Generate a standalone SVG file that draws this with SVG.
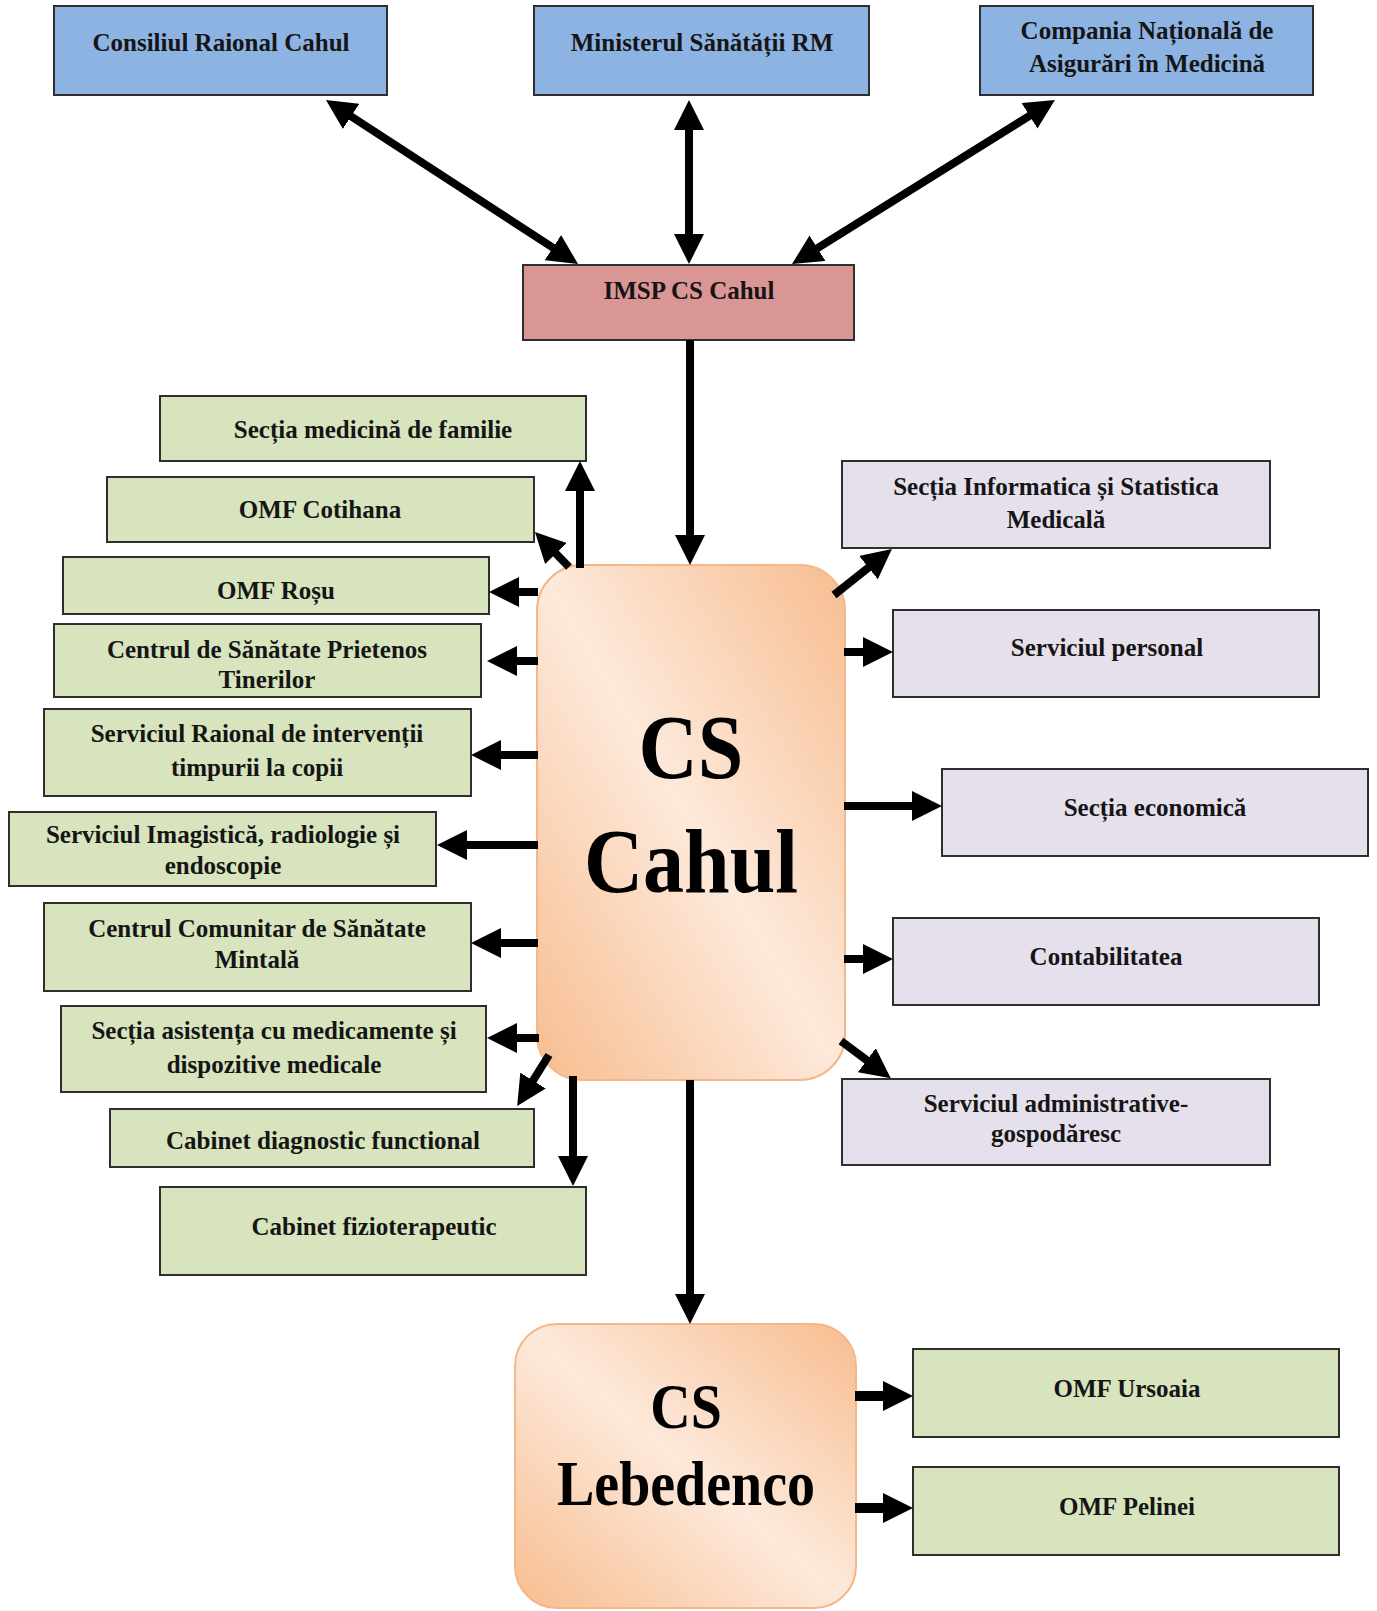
<svg xmlns="http://www.w3.org/2000/svg" width="1377" height="1611" viewBox="0 0 1377 1611">
<defs>
<style>
.box{stroke:#2e2e2e;stroke-width:2}
.blue{fill:#8DB3E2}
.pink{fill:#D99694}
.green{fill:#D7E4BD}
.purple{fill:#E5E0EC}
.cs{fill:url(#peach);stroke:#F4B78A;stroke-width:2}
.lbl{font-family:"Liberation Serif","Times New Roman",serif;font-weight:bold;font-size:25px;fill:#151515;text-anchor:middle}
.big{font-family:"Liberation Serif","Times New Roman",serif;font-weight:bold;fill:#000;text-anchor:middle}
.conn line{stroke:#000;stroke-width:8;fill:none}
.conn .one{marker-end:url(#ah)}
.conn .two{marker-start:url(#ah);marker-end:url(#ah)}
</style>
<linearGradient id="peach" x1="0" y1="1" x2="1" y2="0">
<stop offset="0" stop-color="#F7BD8F"/>
<stop offset="0.5" stop-color="#FDE9DB"/>
<stop offset="1" stop-color="#F7BD8F"/>
</linearGradient>
<marker id="ah" viewBox="0 0 30 30" markerWidth="30" markerHeight="30" markerUnits="userSpaceOnUse" refX="8" refY="15" orient="auto-start-reverse">
<path d="M0,0 L30,15 L0,30 z" fill="#000"/>
</marker>
</defs>
<rect width="1377" height="1611" fill="#fff"/>

<g id="consiliul"><rect class="box blue" x="54" y="6" width="333" height="89"/><text class="lbl" x="221" y="51">Consiliul Raional Cahul</text></g>
<g id="ministerul"><rect class="box blue" x="534" y="6" width="335" height="89"/><text class="lbl" x="702" y="51">Ministerul Sănătății RM</text></g>
<g id="compania"><rect class="box blue" x="980" y="6" width="333" height="89"/><text class="lbl" x="1147" y="39">Compania Națională de</text><text class="lbl" x="1147" y="72">Asigurări în Medicină</text></g>
<g id="imsp"><rect class="box pink" x="523" y="265" width="331" height="75"/><text class="lbl" x="689" y="299">IMSP CS Cahul</text></g>

<g id="cs-cahul"><rect class="cs" x="537" y="565" width="308" height="515" rx="45" ry="45"/>
<text class="big" font-size="82" transform="translate(691,778) scale(1,1.1)">CS</text>
<text class="big" font-size="82" transform="translate(691,892) scale(1,1.1)">Cahul</text></g>

<g id="sectia-medicina"><rect class="box green" x="160" y="396" width="426" height="65"/><text class="lbl" x="373" y="438">Secția medicină de familie</text></g>
<g id="omf-cotihana"><rect class="box green" x="107" y="477" width="427" height="65"/><text class="lbl" x="320" y="518">OMF Cotihana</text></g>
<g id="omf-rosu"><rect class="box green" x="63" y="557" width="426" height="57"/><text class="lbl" x="276" y="599">OMF Roșu</text></g>
<g id="centrul-prietenos"><rect class="box green" x="54" y="624" width="427" height="73"/><text class="lbl" x="267" y="658">Centrul de Sănătate Prietenos</text><text class="lbl" x="267" y="688">Tinerilor</text></g>
<g id="serviciul-raional"><rect class="box green" x="44" y="709" width="427" height="87"/><text class="lbl" x="257" y="742">Serviciul Raional de intervenții</text><text class="lbl" x="257" y="776">timpurii la copii</text></g>
<g id="serviciul-imagistica"><rect class="box green" x="9" y="812" width="427" height="74"/><text class="lbl" x="223" y="843">Serviciul Imagistică, radiologie și</text><text class="lbl" x="223" y="874">endoscopie</text></g>
<g id="centrul-comunitar"><rect class="box green" x="44" y="903" width="427" height="88"/><text class="lbl" x="257" y="937">Centrul Comunitar de Sănătate</text><text class="lbl" x="257" y="968">Mintală</text></g>
<g id="sectia-asistenta"><rect class="box green" x="61" y="1006" width="425" height="86"/><text class="lbl" x="274" y="1039">Secția asistența cu medicamente și</text><text class="lbl" x="274" y="1073">dispozitive medicale</text></g>
<g id="cabinet-diagnostic"><rect class="box green" x="110" y="1109" width="424" height="58"/><text class="lbl" x="323" y="1149">Cabinet diagnostic functional</text></g>
<g id="cabinet-fizioterapeutic"><rect class="box green" x="160" y="1187" width="426" height="88"/><text class="lbl" x="374" y="1235">Cabinet fizioterapeutic</text></g>

<g id="sectia-informatica"><rect class="box purple" x="842" y="461" width="428" height="87"/><text class="lbl" x="1056" y="495">Secția Informatica și Statistica</text><text class="lbl" x="1056" y="528">Medicală</text></g>
<g id="serviciul-personal"><rect class="box purple" x="893" y="610" width="426" height="87"/><text class="lbl" x="1107" y="656">Serviciul personal</text></g>
<g id="sectia-economica"><rect class="box purple" x="942" y="769" width="426" height="87"/><text class="lbl" x="1155" y="816">Secția economică</text></g>
<g id="contabilitatea"><rect class="box purple" x="893" y="918" width="426" height="87"/><text class="lbl" x="1106" y="965">Contabilitatea</text></g>
<g id="serviciul-administrativ"><rect class="box purple" x="842" y="1079" width="428" height="86"/><text class="lbl" x="1056" y="1112">Serviciul administrative-</text><text class="lbl" x="1056" y="1142">gospodăresc</text></g>

<g id="cs-lebedenco"><rect class="cs" x="515" y="1324" width="341" height="284" rx="42" ry="42"/>
<text class="big" font-size="56" transform="translate(686,1428) scale(1,1.12)">CS</text>
<text class="big" font-size="56" transform="translate(686,1505) scale(1,1.15)">Lebedenco</text></g>

<g id="omf-ursoaia"><rect class="box green" x="913" y="1349" width="426" height="88"/><text class="lbl" x="1127" y="1397">OMF Ursoaia</text></g>
<g id="omf-pelinei"><rect class="box green" x="913" y="1467" width="426" height="88"/><text class="lbl" x="1127" y="1515">OMF Pelinei</text></g>

<g id="connectors" class="conn">
<line class="two" x1="344.4" y1="112" x2="559.6" y2="252"/>
<line class="two" x1="689" y1="122" x2="689" y2="242"/>
<line class="two" x1="1036.3" y1="111.6" x2="810.7" y2="252.4"/>
<line class="one" x1="690" y1="340" x2="690" y2="543"/>
<line class="one" x1="580" y1="568" x2="580" y2="483"/>
<line class="one" x1="569" y1="567" x2="550.3" y2="547.8"/>
<line class="one" x1="538" y1="592" x2="511" y2="592"/>
<line class="one" x1="538" y1="661" x2="509" y2="661"/>
<line class="one" x1="538" y1="755" x2="493" y2="755"/>
<line class="one" x1="538" y1="845" x2="459" y2="845"/>
<line class="one" x1="538" y1="943" x2="493" y2="943"/>
<line class="one" x1="539" y1="1038" x2="509" y2="1038"/>
<line class="one" x1="549" y1="1055" x2="528.8" y2="1087.4"/>
<line class="one" x1="573" y1="1076" x2="573" y2="1164"/>
<line class="one" x1="834" y1="595" x2="874.7" y2="562.6"/>
<line class="one" x1="844" y1="652" x2="871" y2="652"/>
<line class="one" x1="844" y1="806" x2="920" y2="806"/>
<line class="one" x1="844" y1="959" x2="871" y2="959"/>
<line class="one" x1="841" y1="1041" x2="873.2" y2="1065"/>
<line class="one" x1="690" y1="1080" x2="690" y2="1302"/>
<line class="one" x1="855" y1="1396" x2="891" y2="1396" style="stroke-width:10"/>
<line class="one" x1="855" y1="1508" x2="891" y2="1508" style="stroke-width:10"/>
</g>
</svg>
